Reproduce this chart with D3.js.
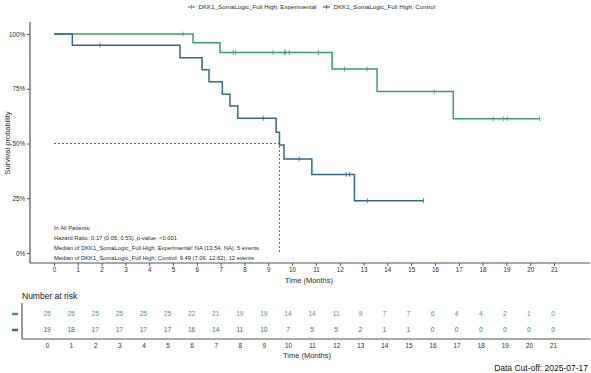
<!DOCTYPE html>
<html>
<head>
<meta charset="utf-8">
<script src="https://cdn.jsdelivr.net/npm/d3@7"></script>
<style>
  body { margin: 0; background: #fff; }
  svg { display: block; font-family: "Liberation Sans", Arial, sans-serif; }
</style>
</head>
<body>
<div class="chart"></div>
<script>
// Data
var groups = ["DKK1_SomaLogic_Full High, Experimental", "DKK1_SomaLogic_Full High, Control"];
var colors = ["#3e9c6c", "#2f6a8e"];

// step points: [time, survival]
var expSteps = [[0, 1], [5.84, 0.96], [6.97, 0.916], [11.68, 0.840], [13.57, 0.737], [16.77, 0.613], [20.4, 0.613]];
var expCensor = [5.42, 7.53, 7.63, 9.2, 9.67, 9.73, 9.88, 11.1, 12.2, 13.15, 15.97, 18.45, 18.87, 19.04, 20.4];

var ctlSteps = [[0, 1], [0.77, 0.949], [5.29, 0.892], [6.22, 0.837], [6.51, 0.782], [7.07, 0.725], [7.39, 0.671],
                [7.72, 0.615], [9.33, 0.551], [9.47, 0.493], [9.66, 0.429], [10.83, 0.359], [12.62, 0.239], [15.52, 0.239]];
var ctlCensor = [1.93, 8.79, 10.3, 12.27, 12.41, 13.16, 15.52];

var medianCtl = 9.47;

var monthTicks = d3.range(0, 22);
var yTicks = [0, 0.25, 0.5, 0.75, 1];

var riskExp = [25, 25, 25, 25, 25, 25, 22, 21, 19, 19, 14, 14, 11, 9, 7, 7, 6, 4, 4, 2, 1, 0];
var riskCtl = [19, 18, 17, 17, 17, 17, 16, 14, 11, 10, 7, 5, 5, 2, 1, 1, 0, 0, 0, 0, 0, 0];

var notes = [
  "In All Patients:",
  "Hazard Ratio: 0.17 (0.05, 0.53), p-value: <0.001",
  "Median of DKK1_SomaLogic_Full High, Experimental: NA (13.54, NA), 5 events",
  "Median of DKK1_SomaLogic_Full High, Control: 9.49 (7.06, 12.62), 12 events"
];

var svgWidth = 591, svgHeight = 373;
var axisColor = "#555";
var textColor = "#2a2a2a";

var svg = d3.select(".chart").append("svg")
    .attr("width", svgWidth)
    .attr("height", svgHeight);

// Main plot scales
var x = d3.scaleLinear().domain([0, 21]).range([54, 554]);
var y = d3.scaleLinear().domain([0, 1]).range([253, 34]);

// Axes lines
svg.append("line")
    .attr("x1", 30).attr("x2", 30).attr("y1", 22).attr("y2", 263)
    .attr("stroke", axisColor).attr("stroke-width", 1.2);
svg.append("line")
    .attr("x1", 30).attr("x2", 590).attr("y1", 263).attr("y2", 263)
    .attr("stroke", axisColor).attr("stroke-width", 1.2);

// Y axis
var yAxis = svg.append("g")
    .attr("transform", "translate(30,0)")
    .call(d3.axisLeft(y).tickValues(yTicks).tickFormat(d3.format(".0%")).tickSize(3).tickPadding(2));
yAxis.select(".domain").remove();
yAxis.selectAll("line").attr("stroke", axisColor);
yAxis.selectAll("text").attr("font-size", 6.3).attr("fill", textColor).attr("font-family", null);

// X axis
var xAxis = svg.append("g")
    .attr("transform", "translate(0,263)")
    .call(d3.axisBottom(x).tickValues(monthTicks).tickFormat(d3.format("d")).tickSize(3).tickPadding(2));
xAxis.select(".domain").remove();
xAxis.selectAll("line").attr("stroke", axisColor);
xAxis.selectAll("text").attr("font-size", 6.3).attr("fill", textColor).attr("font-family", null);

svg.append("text")
    .attr("x", 309).attr("y", 283)
    .attr("text-anchor", "middle")
    .attr("font-size", 7.5).attr("fill", textColor)
    .text("Time (Months)");

svg.append("text")
    .attr("transform", "translate(10,143) rotate(-90)")
    .attr("text-anchor", "middle")
    .attr("font-size", 7.5).attr("fill", textColor)
    .text("Survival probability");

// Median dashed lines
svg.append("path")
    .attr("d", "M" + x(0) + "," + y(0.5) + "H" + x(medianCtl) + "V" + y(0))
    .attr("fill", "none").attr("stroke", "#555")
    .attr("stroke-width", 0.9).attr("stroke-dasharray", "2,2");

// Curves
var stepLine = d3.line().x(d => x(d[0])).y(d => y(d[1])).curve(d3.curveStepAfter);

function survAt(steps, t) {
    var s = steps[0][1];
    steps.forEach(function(p) { if (p[0] <= t) s = p[1]; });
    return s;
}

[[expSteps, expCensor], [ctlSteps, ctlCensor]].forEach(function(g, i) {
    svg.append("path")
        .datum(g[0])
        .attr("d", stepLine)
        .attr("fill", "none")
        .attr("stroke", colors[i])
        .attr("stroke-width", 1.5);
    svg.selectAll(".cens" + i)
        .data(g[1])
        .enter()
        .append("line")
        .attr("class", "cens" + i)
        .attr("x1", d => x(d)).attr("x2", d => x(d))
        .attr("y1", d => y(survAt(g[0], d)) - 2.5)
        .attr("y2", d => y(survAt(g[0], d)) + 2.5)
        .attr("stroke", colors[i]).attr("stroke-width", 0.8);
});

// Notes
svg.selectAll(".note")
    .data(notes)
    .enter()
    .append("text")
    .attr("class", "note")
    .attr("x", 54)
    .attr("y", (d, i) => 229.5 + i * 10)
    .attr("font-size", 5.8).attr("fill", textColor)
    .text(d => d);

// Legend
var legendX = [188, 323];
groups.forEach(function(name, i) {
    var lg = svg.append("g").attr("transform", "translate(" + legendX[i] + ",7)");
    lg.append("line").attr("x1", 0).attr("x2", 7).attr("y1", 0).attr("y2", 0)
        .attr("stroke", colors[i]).attr("stroke-width", 1.2);
    lg.append("line").attr("x1", 3.5).attr("x2", 3.5).attr("y1", -2).attr("y2", 2)
        .attr("stroke", colors[i]).attr("stroke-width", 0.8);
    lg.append("text").attr("x", 10.5).attr("y", 2.2)
        .attr("font-size", 6.2).attr("fill", textColor)
        .text(name);
});

// Number at risk table
var xr = d3.scaleLinear().domain([0, 21]).range([47, 553]);
var rowY = [314, 330];

svg.append("text")
    .attr("x", 22).attr("y", 299)
    .attr("font-size", 8.5).attr("fill", "#111")
    .text("Number at risk");

svg.append("line")
    .attr("x1", 22).attr("x2", 22).attr("y1", 303).attr("y2", 339)
    .attr("stroke", axisColor).attr("stroke-width", 1.2);
svg.append("line")
    .attr("x1", 22).attr("x2", 590).attr("y1", 339).attr("y2", 339)
    .attr("stroke", axisColor).attr("stroke-width", 1.2);

var rAxis = svg.append("g")
    .attr("transform", "translate(0,339)")
    .call(d3.axisBottom(xr).tickValues(monthTicks).tickFormat(d3.format("d")).tickSize(0).tickPadding(5));
rAxis.select(".domain").remove();
rAxis.selectAll("text").attr("font-size", 6.3).attr("fill", textColor).attr("font-family", null);

[riskExp, riskCtl].forEach(function(row, i) {
    svg.selectAll(".risk" + i)
        .data(row)
        .enter()
        .append("text")
        .attr("class", "risk" + i)
        .attr("x", (d, j) => xr(monthTicks[j]))
        .attr("y", rowY[i] + 2.3)
        .attr("text-anchor", "middle")
        .attr("font-size", 6.5)
        .attr("fill", colors[i])
        .text(d => d);
    svg.append("line")
        .attr("x1", 12).attr("x2", 18).attr("y1", rowY[i]).attr("y2", rowY[i])
        .attr("stroke", colors[i]).attr("stroke-width", 2.5);
});

svg.append("text")
    .attr("x", 307).attr("y", 358)
    .attr("text-anchor", "middle")
    .attr("font-size", 7.5).attr("fill", textColor)
    .text("Time (Months)");

svg.append("text")
    .attr("x", 588).attr("y", 371)
    .attr("text-anchor", "end")
    .attr("font-size", 8.5).attr("fill", "#111")
    .text("Data Cut-off: 2025-07-17");
</script>
</body>
</html>
